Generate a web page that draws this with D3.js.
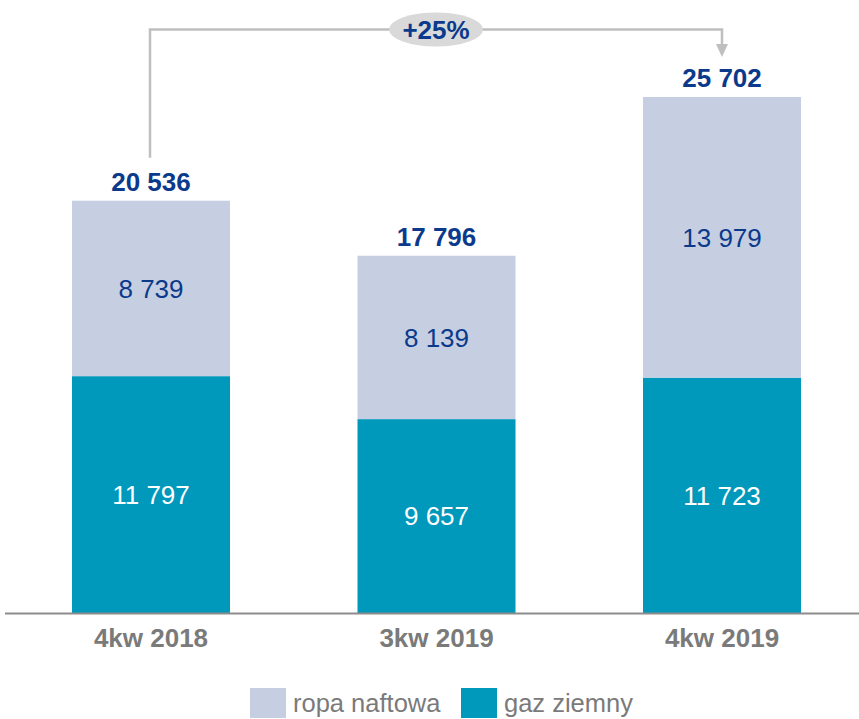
<!DOCTYPE html>
<html>
<head>
<meta charset="utf-8">
<script src="https://cdn.jsdelivr.net/npm/d3@7"></script>
<style>
  body { margin: 0; background: #fff; }
  text { font-family: "Liberation Sans", Arial, sans-serif; }
</style>
</head>
<body>
<svg id="chart" width="859" height="719"></svg>
<script>
var categories = ["4kw 2018", "3kw 2019", "4kw 2019"],
    gaz = [11797, 9657, 11723],
    ropa = [8739, 8139, 13979],
    totals = [20536, 17796, 25702],
    seriesNames = ["ropa naftowa", "gaz ziemny"],
    changeLabel = "+25%";

var fmt = function(v) { return d3.format(",")(v).replace(/,/g, " "); };

var colRopa = "#c5cfe1",
    colGaz = "#0098bb",
    darkBlue = "#0b3a8c",
    gray = "#7a7a7a";

var svg = d3.select("#chart");

var x = d3.scaleBand()
    .domain(categories)
    .range([72, 801])
    .paddingInner(0.4466)
    .paddingOuter(0);

var y = d3.scaleLinear()
    .domain([0, 25702])
    .range([613, 97]);

var data = categories.map(function(c, i) {
  return {cat: c, gaz: gaz[i], ropa: ropa[i], total: totals[i]};
});

var bars = svg.append("g").selectAll("g")
    .data(data)
  .enter().append("g");

bars.append("rect")
    .attr("x", function(d) { return x(d.cat); })
    .attr("width", x.bandwidth())
    .attr("y", function(d) { return y(d.gaz); })
    .attr("height", function(d) { return y(0) - y(d.gaz); })
    .style("fill", colGaz);

bars.append("rect")
    .attr("x", function(d) { return x(d.cat); })
    .attr("width", x.bandwidth())
    .attr("y", function(d) { return y(d.gaz + d.ropa); })
    .attr("height", function(d) { return y(d.gaz) - y(d.gaz + d.ropa); })
    .style("fill", colRopa);

// segment labels
bars.append("text")
    .attr("x", function(d) { return x(d.cat) + x.bandwidth() / 2; })
    .attr("y", function(d) { return (y(0) + y(d.gaz)) / 2; })
    .attr("dy", "0.36em")
    .attr("text-anchor", "middle")
    .style("font-size", "26px")
    .style("fill", "#fff")
    .text(function(d) { return fmt(d.gaz); });

bars.append("text")
    .attr("x", function(d) { return x(d.cat) + x.bandwidth() / 2; })
    .attr("y", function(d) { return (y(d.gaz) + y(d.gaz + d.ropa)) / 2; })
    .attr("dy", "0.36em")
    .attr("text-anchor", "middle")
    .style("font-size", "26px")
    .style("fill", darkBlue)
    .text(function(d) { return fmt(d.ropa); });

// totals
bars.append("text")
    .attr("x", function(d) { return x(d.cat) + x.bandwidth() / 2; })
    .attr("y", function(d) { return y(d.total) - 10; })
    .attr("text-anchor", "middle")
    .style("font-size", "26px")
    .style("font-weight", "bold")
    .style("fill", darkBlue)
    .text(function(d) { return fmt(d.total); });

// baseline
svg.append("line")
    .attr("x1", 5).attr("x2", 859)
    .attr("y1", y(0) + 0.5).attr("y2", y(0) + 0.5)
    .style("stroke", "#8c8c8c")
    .style("stroke-width", 2);

// category labels
svg.append("g").selectAll("text")
    .data(categories)
  .enter().append("text")
    .attr("x", function(d) { return x(d) + x.bandwidth() / 2; })
    .attr("y", 647)
    .attr("text-anchor", "middle")
    .style("font-size", "26px")
    .style("font-weight", "bold")
    .style("fill", gray)
    .text(function(d) { return d; });

// change annotation
var x0 = x(categories[0]) + x.bandwidth() / 2 - 1,
    x2 = x(categories[2]) + x.bandwidth() / 2,
    topY = 29.5;

svg.append("path")
    .attr("d", "M" + x0 + "," + (y(totals[0]) - 43) + "V" + topY + "H" + x2 + "V" + 46)
    .style("fill", "none")
    .style("stroke", "#bfbfbf")
    .style("stroke-width", 2.5);

svg.append("path")
    .attr("d", "M" + (x2 - 6) + ",44L" + (x2 + 6) + ",44L" + x2 + ",57Z")
    .style("fill", "#bfbfbf");

var mid = 436;
svg.append("ellipse")
    .attr("cx", mid).attr("cy", topY)
    .attr("rx", 47).attr("ry", 17)
    .style("fill", "#d9d9d9");

svg.append("text")
    .attr("x", mid).attr("y", topY)
    .attr("dy", "0.36em")
    .attr("text-anchor", "middle")
    .style("font-size", "26px")
    .style("font-weight", "bold")
    .style("fill", darkBlue)
    .text(changeLabel);

// legend
var legendX = [250, 461],
    legendCol = [colRopa, colGaz];
var legend = svg.append("g").selectAll("g")
    .data(seriesNames)
  .enter().append("g")
    .attr("transform", function(d, i) { return "translate(" + legendX[i] + ",688)"; });

legend.append("rect")
    .attr("width", 36).attr("height", 30)
    .style("fill", function(d, i) { return legendCol[i]; });

legend.append("text")
    .attr("x", 43).attr("y", 15)
    .attr("dy", "0.36em")
    .style("font-size", "25.5px")
    .style("fill", gray)
    .text(function(d) { return d; });
</script>
</body>
</html>
